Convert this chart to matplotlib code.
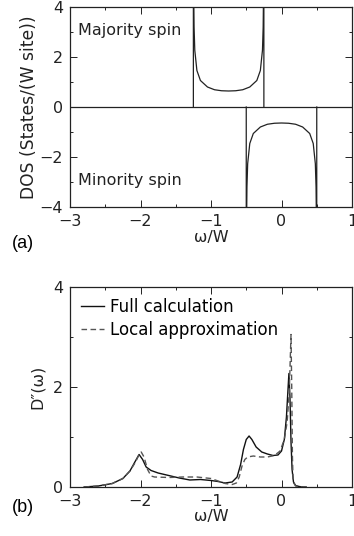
import matplotlib
matplotlib.use("Agg")
import matplotlib.pyplot as plt
from matplotlib.ticker import MultipleLocator

# (a) densidad de estados por espín (con los bordes verticales de banda)
maj_w = [-1.25, -1.25, -1.245, -1.24, -1.23, -1.2, -1.15, -1.05, -0.95, -0.85,
         -0.75, -0.65, -0.55, -0.45, -0.35, -0.3, -0.27, -0.26, -0.255, -0.25, -0.25]
maj_dos = [0, 4.5, 4.5, 3.2, 2.27, 1.46, 1.06, 0.8, 0.69, 0.65,
           0.64, 0.65, 0.69, 0.8, 1.06, 1.46, 2.27, 3.2, 4.5, 4.5, 0]
min_w = [-0.5, -0.5, -0.495, -0.49, -0.48, -0.45, -0.4, -0.3, -0.2, -0.1,
         0.0, 0.1, 0.2, 0.3, 0.4, 0.45, 0.48, 0.49, 0.495, 0.5, 0.5]
min_dos = [0, -4.5, -4.5, -3.2, -2.27, -1.46, -1.06, -0.8, -0.69, -0.65,
           -0.64, -0.65, -0.69, -0.8, -1.06, -1.46, -2.27, -3.2, -4.5, -4.5, 0]

# (b) cálculo completo vs. aproximación local
full_w = [-2.8, -2.6, -2.4, -2.25, -2.15, -2.08, -2.02, -1.97, -1.92, -1.85,
          -1.75, -1.6, -1.45, -1.3, -1.15, -1.0, -0.9, -0.8, -0.7, -0.63,
          -0.58, -0.54, -0.5, -0.46, -0.42, -0.36, -0.28, -0.2, -0.12, -0.05,
          0.0, 0.04, 0.07, 0.09, 0.105, 0.12, 0.135, 0.15, 0.17, 0.2,
          0.25, 0.3, 0.35]
full_d = [0.0, 0.02, 0.07, 0.17, 0.32, 0.5, 0.65, 0.55, 0.4, 0.33,
          0.28, 0.23, 0.18, 0.14, 0.15, 0.13, 0.11, 0.08, 0.1, 0.2,
          0.45, 0.75, 0.95, 1.02, 0.95, 0.8, 0.7, 0.66, 0.63, 0.64,
          0.72, 0.95, 1.4, 1.9, 2.27, 1.8, 0.9, 0.35, 0.1, 0.03,
          0.01, 0.0, 0.0]
loc_w = [-2.8, -2.6, -2.4, -2.25, -2.15, -2.07, -2.02, -1.99, -1.95, -1.9,
         -1.85, -1.8, -1.6, -1.4, -1.2, -1.0, -0.9, -0.8, -0.7, -0.64,
         -0.6, -0.56, -0.52, -0.48, -0.4, -0.3, -0.2, -0.1, -0.02, 0.04,
         0.08, 0.11, 0.125, 0.135, 0.145, 0.155, 0.165, 0.2, 0.3]
loc_d = [0.0, 0.02, 0.07, 0.17, 0.32, 0.5, 0.65, 0.7, 0.6, 0.35,
         0.22, 0.2, 0.19, 0.2, 0.2, 0.17, 0.12, 0.07, 0.05, 0.08,
         0.2, 0.42, 0.55, 0.6, 0.62, 0.6, 0.6, 0.63, 0.72, 0.95,
         1.3, 1.9, 2.6, 3.05, 2.0, 0.6, 0.1, 0.02, 0.0]

W_PX, H_PX = 354, 536
plt.rcParams["font.family"] = ["DejaVu Sans"]
plt.rcParams["font.size"] = 11

fig = plt.figure(figsize=(W_PX / 100, H_PX / 100), dpi=100)


def _ejes(rect):
    ax = fig.add_axes(rect)
    ax.set_xlim(-3, 1)
    ax.xaxis.set_major_locator(MultipleLocator(1))
    ax.xaxis.set_minor_locator(MultipleLocator(0.5))
    ax.yaxis.set_minor_locator(MultipleLocator(1))
    ax.tick_params(which="both", direction="in", top=True, right=True,
                   width=0.7, labelsize=11.5, colors="#222", pad=5)
    ax.tick_params(which="major", length=5)
    ax.tick_params(which="minor", length=2.5)
    for s in ax.spines.values():
        s.set_linewidth(0.9)
        s.set_color("#222")
    return ax


# --- panel (a) ---
ax1 = _ejes([70 / W_PX, 1 - 207 / H_PX, 282 / W_PX, 200 / H_PX])
ax1.set_ylim(-4, 4)
ax1.yaxis.set_major_locator(MultipleLocator(2))
ax1.axhline(0, color="#222", linewidth=0.9)
ax1.plot(maj_w, maj_dos, color="#222", linewidth=0.9)
ax1.plot(min_w, min_dos, color="#222", linewidth=0.9)
ax1.text(-2.88, 2.9, "Majority spin", fontsize=11.5, color="#222")
ax1.text(-2.88, -3.1, "Minority spin", fontsize=11.5, color="#222")
ax1.set_ylabel("DOS (States/(W site))", fontsize=12.3, color="#222", labelpad=1)
ax1.set_xlabel("ω/W", fontsize=11.5, color="#222", labelpad=1)

# --- panel (b) ---
ax2 = _ejes([70 / W_PX, 1 - 487 / H_PX, 282 / W_PX, 200 / H_PX])
ax2.set_ylim(0, 4)
ax2.yaxis.set_major_locator(MultipleLocator(2))
ax2.plot(full_w, full_d, color="#111", linewidth=1.0, label="Full calculation")
ax2.plot(loc_w, loc_d, color="#555", linewidth=1.0, linestyle=(0, (4, 2.5)),
         label="Local approximation")
ax2.legend(loc="upper left", frameon=False, fontsize=12, handlelength=1.4,
           handletextpad=0.35, borderaxespad=0.35, labelspacing=0.3,
           borderpad=0.3)
ax2.set_ylabel("D″(ω)", fontsize=11.5, color="#222", labelpad=6)
ax2.set_xlabel("ω/W", fontsize=11.5, color="#222", labelpad=0)

fig.text(12 / W_PX, 1 - 244 / H_PX, "(a)", fontsize=13, va="center",
         family=["Liberation Sans", "DejaVu Sans"])
fig.text(12 / W_PX, 1 - 507 / H_PX, "(b)", fontsize=13, va="center",
         family=["Liberation Sans", "DejaVu Sans"])

fig.savefig("out.png", dpi=100)
